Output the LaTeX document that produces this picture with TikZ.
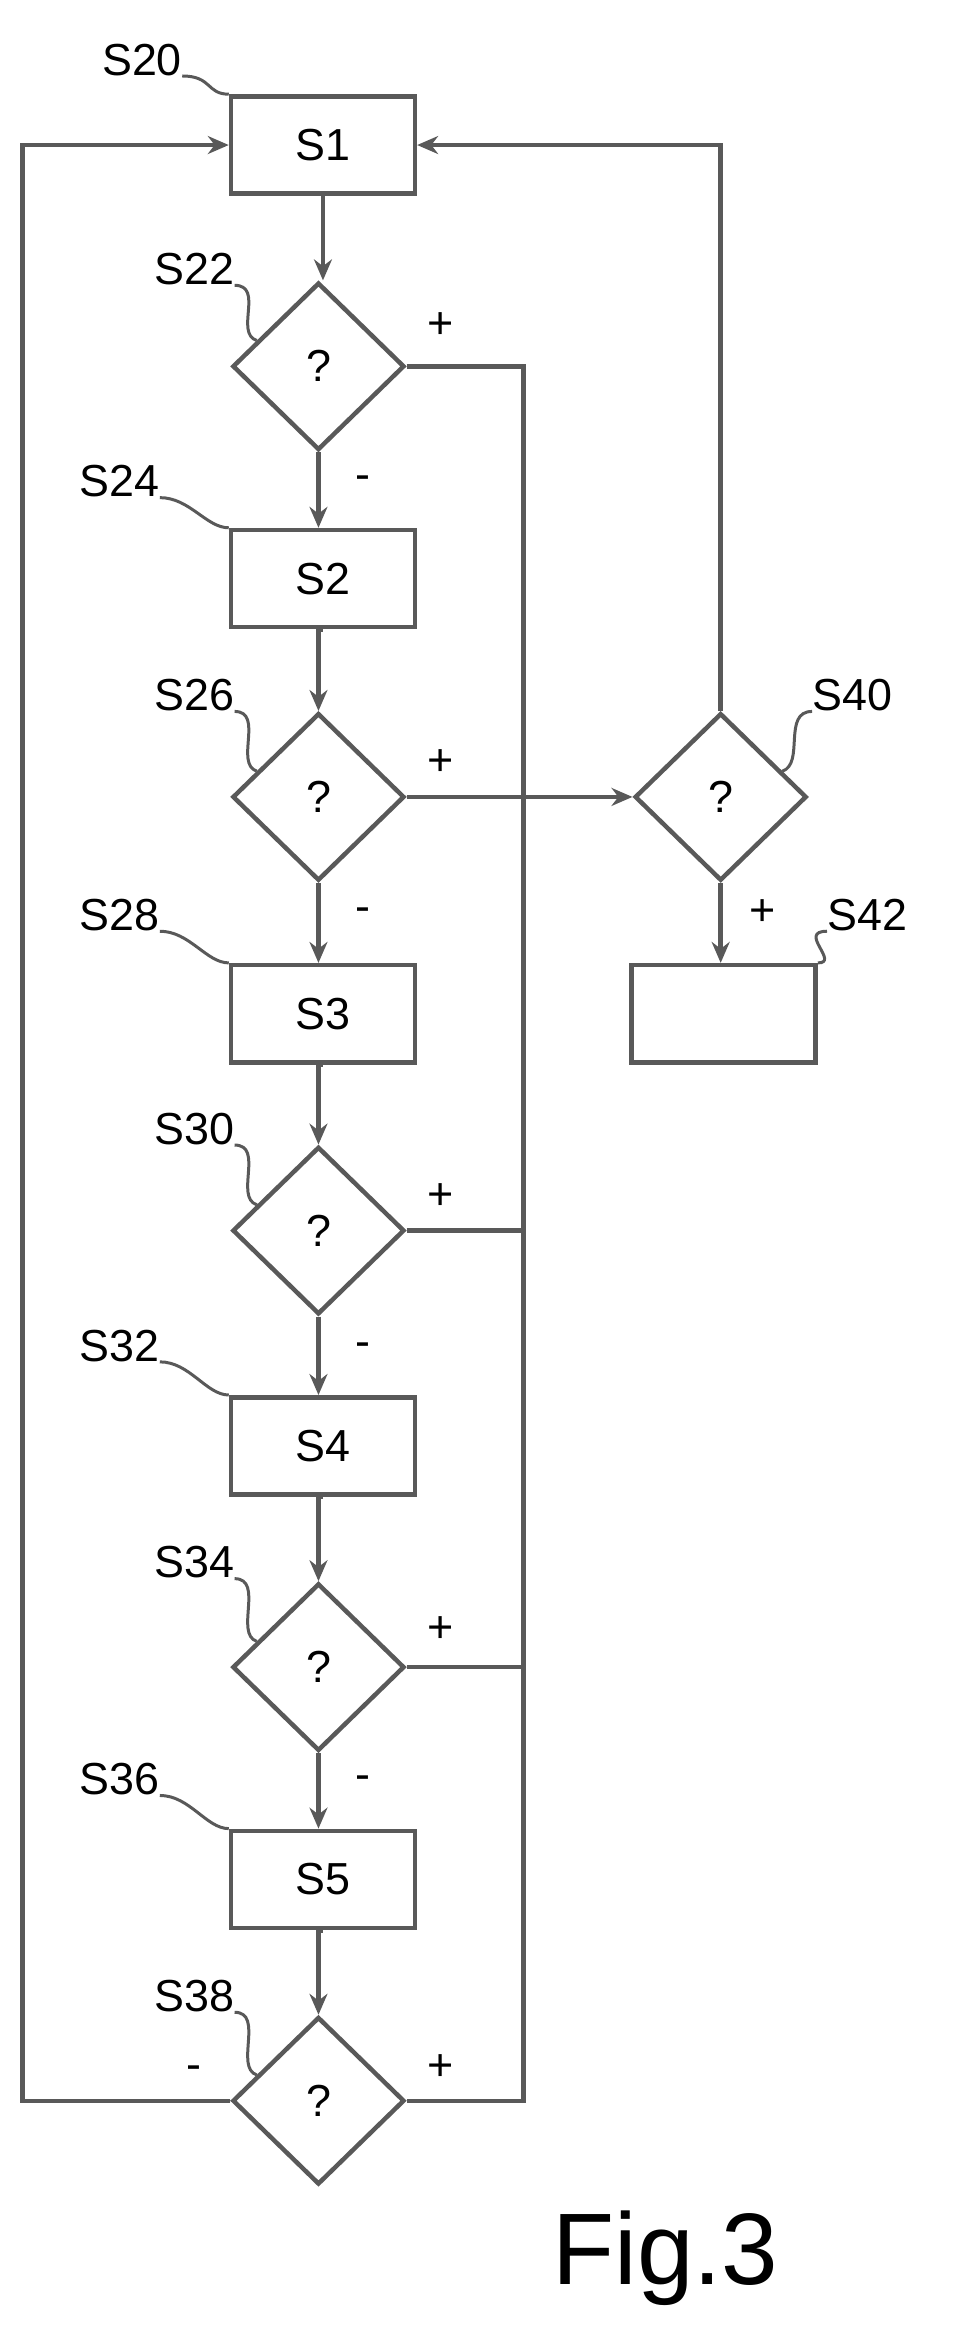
\documentclass[tikz,border=0pt]{standalone}
\usepackage{fontspec}
\setmainfont{Liberation Sans}
\usetikzlibrary{shapes.geometric,arrows.meta,calc}
\begin{document}
\begin{tikzpicture}[x=1pt,y=-1pt,
  ln/.style={line width=3pt,draw=black!65},
  box/.style={ln,rectangle,minimum width=123pt,minimum height=65pt,inner sep=0,font=\fontsize{30}{36}\selectfont},
  dia/.style={ln,diamond,minimum width=115pt,minimum height=112pt,inner sep=0,font=\fontsize{30}{36}\selectfont},
  lab/.style={font=\fontsize{30}{36}\selectfont,inner sep=0},
  arr/.style={ln,-{Stealth[length=14pt,width=12pt]}},
  lead/.style={line width=2pt,draw=black!65}]
\useasboundingbox (0,0) rectangle (655,1555);
\node[box] (s1) at (216,97) {S1};
\node[dia] (d22) at (213,245) {?};
\node[box] (s2) at (216,387) {S2};
\node[dia] (d26) at (213,533) {?};
\node[box] (s3) at (216,678) {S3};
\node[dia] (d30) at (213,823) {?};
\node[box] (s4) at (216,967) {S4};
\node[dia] (d34) at (213,1115) {?};
\node[box] (s5) at (216,1257) {S5};
\node[dia] (d38) at (213,1405) {?};
\node[dia] (d40) at (482,533) {?};
\node[box] (s42) at (484,678) {};
\coordinate (b1) at (350,245);
\coordinate (b5) at (350,1405);
\coordinate (b3) at (350,823);
\coordinate (b4) at (350,1115);
\coordinate (l1) at (15,1405);
\draw[arr] (s1.south) -- (s1.south|-d22.north);
\draw[arr] (d22.south) -- (d22.south|-s2.north);
\draw[arr] (s2.south) -- (s2.south-|d26.north) -- (d26.north);
\draw[arr] (d26.south) -- (d26.south|-s3.north);
\draw[arr] (s3.south) -- (s3.south-|d30.north) -- (d30.north);
\draw[arr] (d30.south) -- (d30.south|-s4.north);
\draw[arr] (s4.south) -- (s4.south-|d34.north) -- (d34.north);
\draw[arr] (d34.south) -- (d34.south|-s5.north);
\draw[arr] (s5.south) -- (s5.south-|d38.north) -- (d38.north);
\draw[ln] (d22.east) -- (b1) -- (b5) -- (d38.east);
\draw[ln] (d30.east) -- (b3);
\draw[ln] (d34.east) -- (b4);
\draw[arr] (d26.east) -- (d40.west);
\draw[arr] (d40.north) |- (s1.east);
\draw[arr] (d40.south) -- (d40.south|-s42.north);
\draw[arr] (d38.west) -- (l1) |- (s1.west);
% labels
\node[lab] (t20) at (95,40) {S20};
\node[lab] (t22) at (130,180) {S22};
\node[lab] (t24) at (80,322) {S24};
\node[lab] (t26) at (130,465) {S26};
\node[lab] (t28) at (80,612) {S28};
\node[lab] (t30) at (130,755) {S30};
\node[lab] (t32) at (80,900) {S32};
\node[lab] (t34) at (130,1045) {S34};
\node[lab] (t36) at (80,1190) {S36};
\node[lab] (t38) at (130,1335) {S38};
\node[lab] (t40) at (570,465) {S40};
\node[lab] (t42) at (580,612) {S42};
\draw[lead] (t20.south east) .. controls +(20,0) and +(-15,0) .. (s1.north west);
\draw[lead] (t22.south east) .. controls +(20,0) and +(-15,-5) .. ($(d22.north)!0.7!(d22.west)$);
\draw[lead] (t24.south east) .. controls +(20,0) and +(-15,0) .. (s2.north west);
\draw[lead] (t26.south east) .. controls +(20,0) and +(-15,-5) .. ($(d26.north)!0.7!(d26.west)$);
\draw[lead] (t28.south east) .. controls +(20,0) and +(-15,0) .. (s3.north west);
\draw[lead] (t30.south east) .. controls +(20,0) and +(-15,-5) .. ($(d30.north)!0.7!(d30.west)$);
\draw[lead] (t32.south east) .. controls +(20,0) and +(-15,0) .. (s4.north west);
\draw[lead] (t34.south east) .. controls +(20,0) and +(-15,-5) .. ($(d34.north)!0.7!(d34.west)$);
\draw[lead] (t36.south east) .. controls +(20,0) and +(-15,0) .. (s5.north west);
\draw[lead] (t38.south east) .. controls +(20,0) and +(-15,-5) .. ($(d38.north)!0.7!(d38.west)$);
\draw[lead] (t40.south west) .. controls +(-20,0) and +(15,-5) .. ($(d40.north)!0.7!(d40.east)$);
\draw[lead] (t42.south west) .. controls +(-20,0) and +(15,0) .. (s42.north east);
\node[lab] (p22) at (295,218) {+};
\node[lab] (p26) at (295,510) {+};
\node[lab] (p30) at (295,800) {+};
\node[lab] (p34) at (295,1090) {+};
\node[lab] (p38) at (295,1383) {+};
\node[lab] (p40) at (510,610) {+};
\node[lab] (m22) at (243,323) {-};
\node[lab] (m26) at (243,612) {-};
\node[lab] (m30) at (243,903) {-};
\node[lab] (m34) at (243,1192) {-};
\node[lab] (m38) at (130,1386) {-};
\node[font=\fontsize{68}{80}\selectfont,inner sep=0] (fig) at (445,1510) {Fig.3};
\end{tikzpicture}
\end{document}
